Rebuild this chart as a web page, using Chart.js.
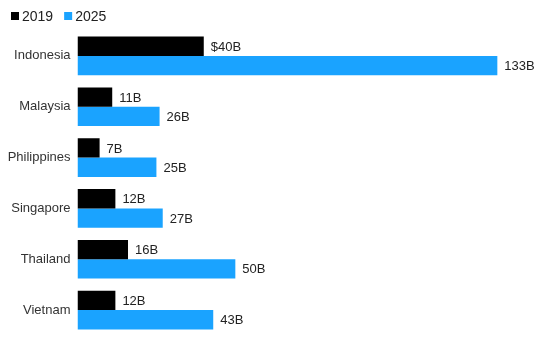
<!DOCTYPE html>
<html>
<head>
<meta charset="utf-8">
<script src="https://cdn.jsdelivr.net/npm/chart.js@4"></script>
<style>
  html, body { margin: 0; padding: 0; background: #fff; }
  #wrap { width: 553px; height: 364px; position: relative; }
</style>
</head>
<body>
<div id="wrap"><canvas id="chart"></canvas></div>
<script>
// --- data ---
const countries = ['Indonesia', 'Malaysia', 'Philippines', 'Singapore', 'Thailand', 'Vietnam'];
const values2019 = [40, 11, 7, 12, 16, 12];
const values2025 = [133, 26, 25, 27, 50, 43];
const seriesNames = ['2019', '2025'];

const FONT = "'Liberation Sans', Arial, sans-serif";

// value labels drawn right after each bar
const valueLabels = {
    id: 'valueLabels',
    afterDatasetsDraw(chart) {
        const ctx = chart.ctx;
        ctx.save();
        ctx.font = '13px ' + FONT;
        ctx.fillStyle = '#222';
        ctx.textBaseline = 'middle';
        chart.data.datasets.forEach((ds, di) => {
            chart.getDatasetMeta(di).data.forEach((bar, i) => {
                let txt = ds.data[i] + 'B';
                if (di === 0 && i === 0) txt = '$' + txt;
                ctx.fillText(txt, bar.x + 7, bar.y + 1);
            });
        });
        ctx.restore();
    }
};

// small legend in the top-left corner, tighter than the built-in one
const topLegend = {
    id: 'topLegend',
    afterDraw(chart) {
        const ctx = chart.ctx;
        ctx.save();
        ctx.font = '14px ' + FONT;
        ctx.textBaseline = 'middle';
        let x = 11;
        const y = 16;
        chart.data.datasets.forEach((ds) => {
            ctx.fillStyle = ds.backgroundColor;
            ctx.fillRect(x, y - 4, 8, 8);
            x += 11;
            ctx.fillStyle = '#222';
            ctx.fillText(ds.label, x, y + 1);
            x += ctx.measureText(ds.label).width + 11;
        });
        ctx.restore();
    }
};

new Chart(document.getElementById('chart'), {
    type: 'bar',
    data: {
        labels: countries,
        datasets: [
            { label: seriesNames[0], data: values2019, backgroundColor: '#000000' },
            { label: seriesNames[1], data: values2025, backgroundColor: '#1aa3ff' }
        ]
    },
    options: {
        indexAxis: 'y',
        responsive: true,
        maintainAspectRatio: false,
        animation: false,
        categoryPercentage: 0.76,
        barPercentage: 1.0,
        layout: { padding: { left: 0, right: 2, top: 30.5, bottom: 28.5 } },
        scales: {
            x: {
                min: 0,
                max: 150,
                display: false
            },
            y: {
                grid: { display: false, drawTicks: false },
                border: { display: false },
                ticks: {
                    color: '#333',
                    padding: 7,
                    font: { size: 13, family: FONT }
                },
                afterFit: (s) => { s.width = 77.5; }
            }
        },
        plugins: {
            legend: { display: false },
            tooltip: { enabled: false }
        }
    },
    plugins: [valueLabels, topLegend]
});
</script>
</body>
</html>
